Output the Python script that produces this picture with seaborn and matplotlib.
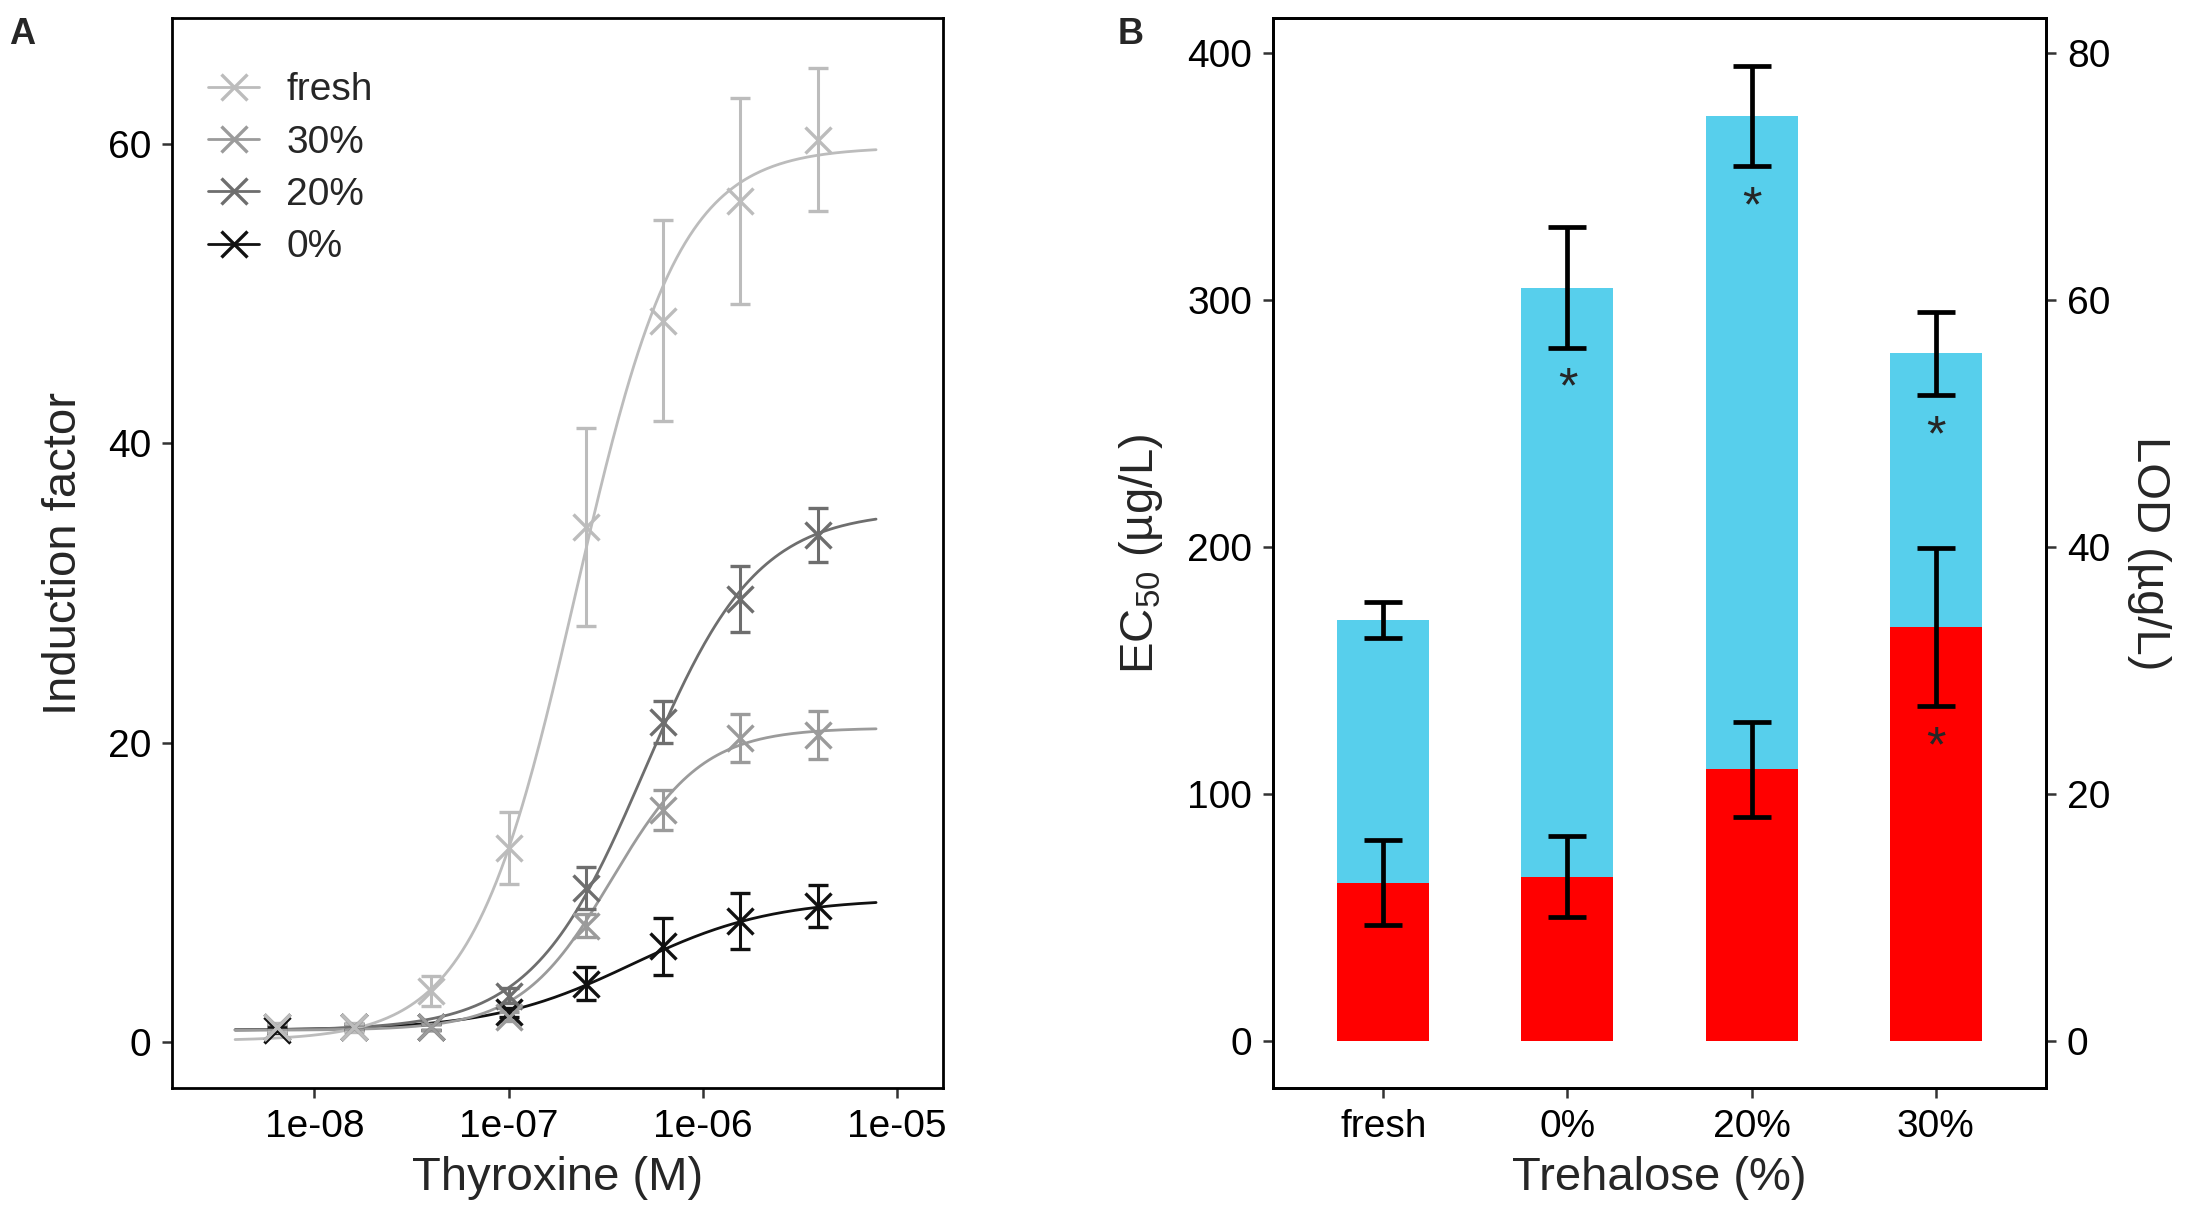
import numpy as np
import pandas as pd
import seaborn as sns
import matplotlib
matplotlib.use("Agg")
import matplotlib.pyplot as plt
from matplotlib.lines import Line2D

# ---- panel A: dose response ----
groups = ["fresh", "30%", "20%", "0%"]
grays = ["#bcbcbc", "#9b9b9b", "#6e6e6e", "#111111"]

dose = [6.4e-9, 1.6e-8, 4.0e-8, 1.0e-7, 2.5e-7, 6.25e-7, 1.5625e-6, 3.9e-6]

fresh_if = [1.0, 1.0, 3.4, 13.0, 34.4, 48.2, 56.2, 60.3]
fresh_sd = [0.3, 0.3, 1.0, 2.4, 6.6, 6.7, 6.9, 4.8]
t30_if = [1.0, 1.0, 1.0, 1.7, 7.8, 15.5, 20.3, 20.5]
t30_sd = [0.2, 0.2, 0.2, 0.3, 0.8, 1.35, 1.6, 1.6]
t20_if = [1.0, 1.0, 1.0, 3.1, 10.3, 21.4, 29.6, 33.9]
t20_sd = [0.2, 0.2, 0.2, 0.5, 1.4, 1.4, 2.2, 1.8]
t0_if = [0.8, 1.0, 1.0, 2.0, 3.9, 6.4, 8.1, 9.1]
t0_sd = [0.2, 0.2, 0.2, 0.3, 1.1, 1.9, 1.9, 1.4]

# fitted 4-parameter Hill curves
fit_bottom = [0.1, 0.8, 0.8, 0.8]
fit_top = [59.8, 21.0, 35.5, 9.6]
fit_ec50 = [2.21e-7, 3.4e-7, 5.0e-7, 4.3e-7]
fit_hill = [1.63, 1.85, 1.5, 1.2]
fit_range = [3.9e-9, 7.8e-6]

# ---- panel B: EC50 and LOD ----
trehalose = ["fresh", "0%", "20%", "30%"]
ec50 = [170.4, 305.0, 374.4, 278.3]
ec50_err = [7.2, 24.3, 20.2, 16.9]
ec50_sig = [False, True, True, True]
lod = [12.8, 13.3, 22.0, 33.5]
lod_err = [3.45, 3.3, 3.85, 6.4]
lod_sig = [False, False, False, True]

sns.set_style("ticks")
plt.rcParams["font.family"] = ["Liberation Sans", "DejaVu Sans"]
plt.rcParams["mathtext.fontset"] = "custom"
plt.rcParams["mathtext.rm"] = "Liberation Sans"
plt.rcParams["mathtext.it"] = "Liberation Sans"

fig = plt.figure(figsize=(10.94, 6.10), dpi=200)
axA = fig.add_axes([0.0786, 0.108, 0.3524, 0.877])
axB = fig.add_axes([0.5818, 0.108, 0.3533, 0.877])

means = [fresh_if, t30_if, t20_if, t0_if]
sds = [fresh_sd, t30_sd, t20_sd, t0_sd]

xs = np.geomspace(fit_range[0], fit_range[1], 300)
curve_rows = []
for g, b, t, e, h in zip(groups, fit_bottom, fit_top, fit_ec50, fit_hill):
    ys = b + (t - b) / (1 + (e / xs) ** h)
    curve_rows.append(pd.DataFrame({"dose": xs, "IF": ys, "group": g}))
curves = pd.concat(curve_rows)

# draw in reverse so lighter ones end up on top like the original
pal = dict(zip(groups, grays))
for g in groups[::-1]:
    sns.lineplot(data=curves[curves.group == g], x="dose", y="IF", color=pal[g],
                 lw=1.0, ax=axA, legend=False)
for g, m, s in list(zip(groups, means, sds))[::-1]:
    axA.errorbar(dose, m, yerr=s, fmt="x", color=pal[g], ms=9.5, mew=1.2,
                 elinewidth=1.1, capsize=3.5, capthick=1.1)

axA.set_xscale("log")
axA.set_xlim(10 ** -8.734, 10 ** -4.763)
axA.set_ylim(-3.07, 68.4)
axA.set_xticks([1e-8, 1e-7, 1e-6, 1e-5])
axA.set_xticklabels(["1e-08", "1e-07", "1e-06", "1e-05"])
axA.minorticks_off()
axA.set_yticks([0, 20, 40, 60])
axA.set_xlabel("Thyroxine (M)", fontsize=17, labelpad=4)
axA.set_ylabel("Induction factor", fontsize=17, labelpad=8)

handles = [Line2D([], [], color=c, marker="x", ms=9.5, mew=1.2, lw=1.0) for c in grays]
axA.legend(handles, groups, loc="upper left", frameon=False, fontsize=14,
           handlelength=1.3, handletextpad=0.7, labelspacing=0.42,
           bbox_to_anchor=(0.012, 0.975), borderaxespad=0.3)

# panel B
dfB = pd.DataFrame({"trehalose": trehalose, "ec50": ec50, "lod": lod})
sns.barplot(data=dfB, x="trehalose", y="ec50", order=trehalose, color="#57cfec",
            width=0.5, saturation=1, linewidth=0, ax=axB)
axB.errorbar(range(len(trehalose)), ec50, yerr=ec50_err, fmt="none", ecolor="black",
             elinewidth=1.7, capsize=7, capthick=1.7, zorder=5)
for i, (v, e, s) in enumerate(zip(ec50, ec50_err, ec50_sig)):
    if s:
        axB.text(i, v - e - 17, "*", ha="center", va="center", fontsize=18)
axB.set_xlim(-0.6, 3.6)
axB.set_ylim(-19.2, 414)
axB.set_yticks([0, 100, 200, 300, 400])
axB.set_xlabel("Trehalose (%)", fontsize=17, labelpad=4)
axB.set_ylabel("EC$_{50}$ (µg/L)", fontsize=17, labelpad=8)

axB2 = axB.twinx()
sns.barplot(data=dfB, x="trehalose", y="lod", order=trehalose, color="#ff0000",
            width=0.5, saturation=1, linewidth=0, ax=axB2)
axB2.errorbar(range(len(trehalose)), lod, yerr=lod_err, fmt="none", ecolor="black",
              elinewidth=1.7, capsize=7, capthick=1.7, zorder=5)
for i, (v, e, s) in enumerate(zip(lod, lod_err, lod_sig)):
    if s:
        axB2.text(i, v - e - 3.4, "*", ha="center", va="center", fontsize=18)
axB2.set_xlim(-0.6, 3.6)
axB2.set_ylim(-19.2 / 5, 414 / 5)
axB2.set_yticks([0, 20, 40, 60, 80])
axB2.set_ylabel("LOD (µg/L)", fontsize=17, rotation=270, labelpad=22)

for ax in (axA, axB, axB2):
    for sp in ax.spines.values():
        sp.set_visible(True)
        sp.set_linewidth(1.0)
        sp.set_color("black")
    ax.tick_params(axis="both", labelsize=14, length=3.5, width=0.9,
                   color="#333333", labelcolor="black", pad=4)

fig.text(0.004, 0.972, "A", fontsize=13, fontweight="bold", va="center")
fig.text(0.511, 0.972, "B", fontsize=13, fontweight="bold", va="center")

fig.savefig("out.png", dpi=200)
